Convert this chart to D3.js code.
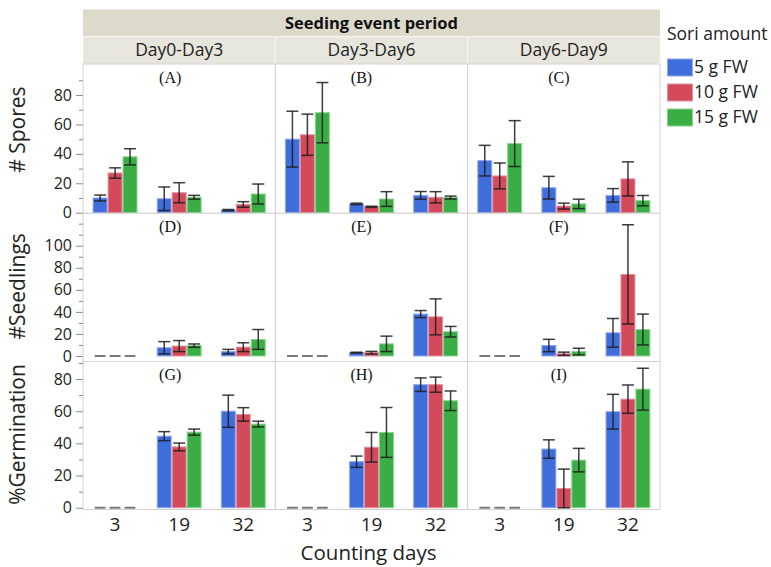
<!DOCTYPE html>
<html>
<head>
<meta charset="utf-8">
<script src="https://cdn.jsdelivr.net/npm/d3@7"></script>
<style>
  html, body { margin: 0; padding: 0; background: #fff; }
  svg { display: block; font-family: "Open Sans", "Noto Sans", sans-serif; }
</style>
</head>
<body>
<svg id="chart" width="771" height="567"></svg>
<script>
// ---- data -------------------------------------------------------------
const periods = ["Day0-Day3", "Day3-Day6", "Day6-Day9"];
const countingDays = ["3", "19", "32"];
const soriAmounts = ["5 g FW", "10 g FW", "15 g FW"];
const responses = ["# Spores", "#Seedlings", "%Germination"];
const panelTags = [["(A)", "(B)", "(C)"], ["(D)", "(E)", "(F)"], ["(G)", "(H)", "(I)"]];

// values indexed [period][counting day][sori amount]
const sporesMean = [
  [[10, 27, 38], [9.5, 13.6, 10.5], [1.8, 5.6, 12.7]],
  [[50, 53, 68], [6, 4, 9.3], [11.8, 10.5, 10.3]],
  [[35.4, 25, 47], [17, 4.5, 6], [11.8, 23, 8.2]]
];
const sporesErr = [
  [[2, 3.5, 5.5], [8, 6.8, 1.3], [0.4, 1.9, 6.8]],
  [[19, 14, 20.5], [0.5, 0.4, 5], [2.6, 3.8, 1]],
  [[10.4, 8.8, 15.6], [7.7, 2, 3.2], [4.6, 11.6, 3.5]]
];
const seedlingsMean = [
  [[0, 0, 0], [7.5, 9, 9.4], [4, 8, 15]],
  [[0, 0, 0], [3, 3, 11], [38, 35.5, 22]],
  [[0, 0, 0], [9.5, 2, 4], [21, 74, 24]]
];
const seedlingsErr = [
  [[0, 0, 0], [5.5, 5, 1.5], [2, 4, 9]],
  [[0, 0, 0], [0.4, 1.2, 7], [3.2, 16.3, 4.8]],
  [[0, 0, 0], [5.6, 1.5, 3], [13, 45, 14]]
];
const germMean = [
  [[0, 0, 0], [44.5, 37.8, 47], [60, 58, 52]],
  [[0, 0, 0], [28.6, 37.6, 46.8], [76.5, 76.5, 66.5]],
  [[0, 0, 0], [36.5, 12, 29.6], [59.7, 67.5, 73.7]]
];
const germErr = [
  [[0, 0, 0], [2.8, 2.4, 1.9], [10, 4.2, 1.8]],
  [[0, 0, 0], [3.5, 9.2, 15.5], [4.2, 4.7, 6.1]],
  [[0, 0, 0], [5.7, 12, 7.3], [10.8, 8.8, 13]]
];

// y axis settings per response row
const yDomains = [[-0.4, 101.1], [-5, 129.4], [-1.1, 90.9]];
const yMajorTicks = [[0, 20, 40, 60, 80], [0, 20, 40, 60, 80, 100], [0, 20, 40, 60, 80]];
const yMinorTicks = [[10, 30, 50, 70, 90], [10, 30, 50, 70, 90, 110, 120], [10, 30, 50, 70, 90]];

// ---- layout -----------------------------------------------------------
const colors = ["#3f6ddb", "#d34a5b", "#3aae45"];
const strokes = ["#8ea8ec", "#e590a0", "#8bd392"];
const left = 83, right = 660;
const headTop = 9.5, headMid = 36.7, headBot = 64;
const rowEdges = [64, 213.3, 361.5, 509.5];
const tagDx = [-9, -10, -5];
const titleDy = [-9, -1, -1];

const svg = d3.select("#chart");
const colX = d3.scaleBand().domain(d3.range(periods.length)).range([left, right]).padding(0);
const W = colX.bandwidth();

const rows = [
  { mean: sporesMean, err: sporesErr },
  { mean: seedlingsMean, err: seedlingsErr },
  { mean: germMean, err: germErr }
];

// header strips
svg.append("rect").attr("x", left).attr("y", headTop).attr("width", right - left)
  .attr("height", headMid - headTop).attr("fill", "#dcdacb");
svg.append("text").attr("x", (left + right) / 2).attr("y", (headTop + headMid) / 2 + 1)
  .attr("text-anchor", "middle").attr("dominant-baseline", "middle")
  .attr("font-weight", "bold").attr("font-size", 16.5).attr("fill", "#111")
  .text("Seeding event period");

periods.forEach((p, c) => {
  const x0 = colX(c);
  svg.append("rect").attr("x", x0).attr("y", headMid).attr("width", W)
    .attr("height", headBot - headMid).attr("fill", "#e7e6dc")
    .attr("stroke", "#f6f5ef").attr("stroke-width", 1);
  svg.append("text").attr("x", x0 + W / 2).attr("y", (headMid + headBot) / 2 + 1)
    .attr("text-anchor", "middle").attr("dominant-baseline", "middle")
    .attr("font-size", 17.5).attr("fill", "#222").text(p);
});
svg.append("line").attr("x1", left).attr("x2", right).attr("y1", headMid).attr("y2", headMid)
  .attr("stroke", "#f6f5ef");

// panels
rows.forEach((row, r) => {
  const top = rowEdges[r], bot = rowEdges[r + 1];
  const y = d3.scaleLinear().domain(yDomains[r]).range([bot, top]);

  periods.forEach((p, c) => {
    const x0 = colX(c);
    const g = svg.append("g").attr("transform", `translate(${x0},0)`);
    g.append("rect").attr("x", 0).attr("y", top).attr("width", W).attr("height", bot - top)
      .attr("fill", "#fff").attr("stroke", "#d2d2d2").attr("stroke-width", 1);

    const xDay = d3.scaleBand().domain(countingDays).range([0, W])
      .paddingInner(0.3).paddingOuter(0.15);
    const xSori = d3.scaleBand().domain(soriAmounts).range([0, xDay.bandwidth()]);

    countingDays.forEach((d, di) => {
      soriAmounts.forEach((s, si) => {
        const v = row.mean[c][di][si];
        const e = row.err[c][di][si];
        const bx = xDay(d) + xSori(s);
        const bw = xSori.bandwidth();
        if (v === 0) {
          const dw = bw * 0.72;
          g.append("line").attr("x1", bx + (bw - dw) / 2).attr("x2", bx + (bw + dw) / 2)
            .attr("y1", y(0)).attr("y2", y(0))
            .attr("stroke", "#7a7a7a").attr("stroke-width", 2);
          return;
        }
        g.append("rect").attr("x", bx + 0.5).attr("y", y(v))
          .attr("width", bw - 1).attr("height", y(0) - y(v))
          .attr("fill", colors[si]).attr("stroke", strokes[si]).attr("stroke-width", 1);
        const cx = bx + bw / 2, cap = 6;
        const lo = Math.max(v - e, yDomains[r][0]);
        const eb = g.append("g").attr("stroke", "#1c1c1c").attr("stroke-width", 1.5)
          .attr("stroke-opacity", 0.85);
        eb.append("line").attr("x1", cx).attr("x2", cx).attr("y1", y(v + e)).attr("y2", y(lo));
        eb.append("line").attr("x1", cx - cap).attr("x2", cx + cap).attr("y1", y(v + e)).attr("y2", y(v + e));
        eb.append("line").attr("x1", cx - cap).attr("x2", cx + cap).attr("y1", y(lo)).attr("y2", y(lo));
      });
    });

    g.append("text").attr("x", W / 2 + tagDx[c]).attr("y", top + 15)
      .attr("text-anchor", "middle").attr("dominant-baseline", "middle")
      .attr("font-family", "'Liberation Serif', 'Times New Roman', serif")
      .attr("font-size", 16).attr("fill", "#111").text(panelTags[r][c]);

    // counting day labels under the bottom row
    if (r === rows.length - 1) {
      const ax = g.append("g").attr("transform", `translate(0,${bot})`)
        .call(d3.axisBottom(xDay).tickSize(0).tickPadding(8));
      ax.select(".domain").remove();
      ax.selectAll("text").attr("font-size", 19).attr("fill", "#222")
        .attr("font-family", "'Open Sans', sans-serif");
    }
  });

  // y axis with minor ticks
  const major = svg.append("g").attr("transform", `translate(${left},0)`)
    .call(d3.axisLeft(y).tickValues(yMajorTicks[r]).tickSize(7).tickPadding(4).tickFormat(d3.format("d")));
  major.select(".domain").remove();
  major.selectAll("line").attr("stroke", "#8a8a8a");
  major.selectAll("text").attr("font-size", 16).attr("fill", "#222")
    .attr("font-family", "'Open Sans', sans-serif");
  const minor = svg.append("g").attr("transform", `translate(${left},0)`)
    .call(d3.axisLeft(y).tickValues(yMinorTicks[r]).tickSize(4).tickFormat(""));
  minor.select(".domain").remove();
  minor.selectAll("line").attr("stroke", "#8a8a8a");

  svg.append("text").attr("transform", `translate(19,${(top + bot) / 2 + titleDy[r]}) rotate(-90)`)
    .attr("text-anchor", "middle").attr("dominant-baseline", "middle")
    .attr("font-size", 21).attr("fill", "#222").text(responses[r]);
});

// x axis title
svg.append("text").attr("x", (left + right) / 2 - 3).attr("y", 555)
  .attr("text-anchor", "middle").attr("dominant-baseline", "middle")
  .attr("font-size", 20.5).attr("fill", "#222").text("Counting days");

// legend
const lg = svg.append("g").attr("transform", "translate(667,0)");
lg.append("text").attr("x", 0).attr("y", 35).attr("dominant-baseline", "middle")
  .attr("font-size", 17.5).attr("fill", "#222").text("Sori amount");
soriAmounts.forEach((s, i) => {
  const yy = 59 + i * 25;
  lg.append("rect").attr("x", 0.5).attr("y", yy).attr("width", 25).attr("height", 17)
    .attr("fill", colors[i]).attr("stroke", strokes[i]);
  lg.append("text").attr("x", 27).attr("y", yy + 9).attr("dominant-baseline", "middle")
    .attr("font-size", 17.5).attr("fill", "#222").text(s);
});
</script>
</body>
</html>
